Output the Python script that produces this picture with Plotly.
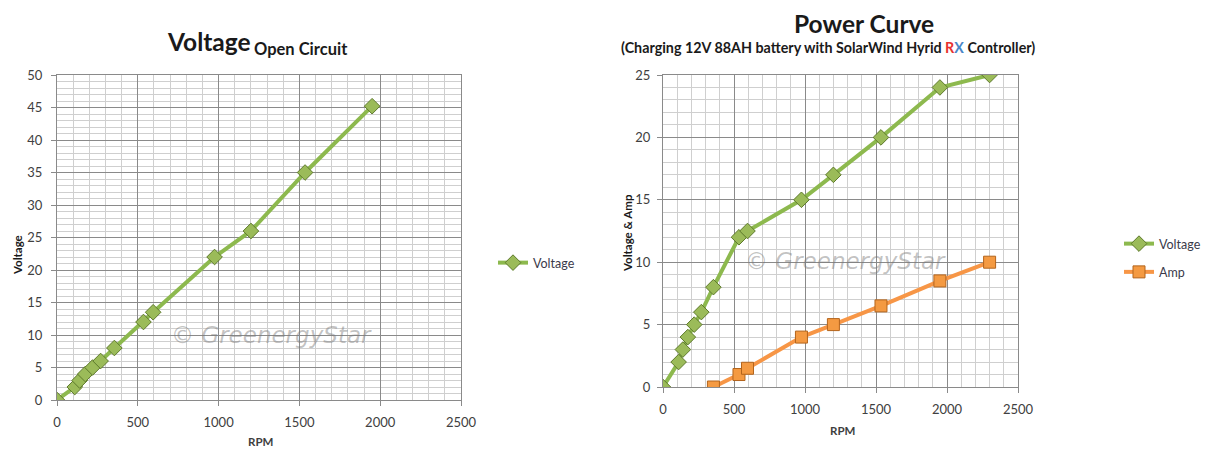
import plotly.graph_objects as go

# ---- data ----
rpm_open = [0, 110, 140, 175, 220, 270, 355, 535, 595, 975, 1200, 1535, 1950]
volt_open = [0, 2, 3, 4, 5, 6, 8, 12, 13.5, 22, 26, 35, 45.2]

rpm_pc = [0, 110, 140, 175, 220, 270, 355, 535, 595, 975, 1200, 1535, 1950, 2300]
volt_pc = [0, 2, 3, 4, 5, 6, 8, 12, 12.5, 15, 17, 20, 24, 25]

rpm_amp = [355, 535, 595, 975, 1200, 1535, 1950, 2300]
amp_pc = [0, 1, 1.5, 4, 5, 6.5, 8.5, 10]

x_ticks = [0, 500, 1000, 1500, 2000, 2500]

# the page body adds an 8px margin; the figure fills the rest of the window
OFF = 8
W, H = 1209 - OFF, 451 - OFF
GREEN_LINE = "#8DB94E"
GREEN_FILL = "#9BBB59"
GREEN_EDGE = "#5E7A2C"
ORANGE_LINE = "#F79646"
ORANGE_FILL = "#F49A42"
ORANGE_EDGE = "#B3641C"
FONT = "Lato"
TXT = "#404040"

def px_x(p):
    return (p - OFF) / W

def px_y(p):
    return 1 - (p - OFF) / H

fig = go.Figure()

fig.add_trace(go.Scatter(
    x=rpm_open, y=volt_open, name="Voltage", mode="lines+markers",
    line=dict(color=GREEN_LINE, width=4),
    marker=dict(symbol="diamond", size=12, color=GREEN_FILL,
                line=dict(color=GREEN_EDGE, width=1)),
    xaxis="x", yaxis="y", legend="legend"))

fig.add_trace(go.Scatter(
    x=rpm_pc, y=volt_pc, name="Voltage", mode="lines+markers",
    line=dict(color=GREEN_LINE, width=4),
    marker=dict(symbol="diamond", size=12, color=GREEN_FILL,
                line=dict(color=GREEN_EDGE, width=1)),
    xaxis="x2", yaxis="y2", legend="legend2", legendgroup="v"))

fig.add_trace(go.Scatter(
    x=rpm_amp, y=amp_pc, name="Amp", mode="lines+markers",
    line=dict(color=ORANGE_LINE, width=4),
    marker=dict(symbol="square", size=12, color=ORANGE_FILL,
                line=dict(color=ORANGE_EDGE, width=1)),
    xaxis="x2", yaxis="y2", legend="legend2", legendgroup="a"))

def xaxis_cfg(dom, anchor):
    return dict(domain=dom, anchor=anchor, range=[0, 2500], tickvals=x_ticks,
                automargin=False,
                showgrid=True, gridcolor="#8a8a8a", gridwidth=1,
                minor=dict(dtick=100, showgrid=True, gridcolor="#cfcfcf", gridwidth=1),
                showline=True, linecolor="#8a8a8a", mirror=True, zeroline=False,
                ticks="outside", ticklen=5, tickcolor="#8a8a8a", ticklabelstandoff=5,
                tickfont=dict(family=FONT, size=13, color=TXT), fixedrange=True)

def yaxis_cfg(dom, anchor, rng, dt, standoff):
    return dict(domain=dom, anchor=anchor, range=rng, dtick=dt,
                automargin=False,
                showgrid=True, gridcolor="#8a8a8a", gridwidth=1,
                minor=dict(dtick=1, showgrid=True, gridcolor="#cfcfcf", gridwidth=1),
                showline=True, linecolor="#8a8a8a", mirror=True, zeroline=False,
                ticks="outside", ticklen=5, tickcolor="#8a8a8a", ticklabelstandoff=standoff,
                tickfont=dict(family=FONT, size=13, color=TXT), fixedrange=True)

fig.update_layout(
    width=W, height=H, margin=dict(l=0, r=0, t=0, b=0, autoexpand=False),
    paper_bgcolor="white", plot_bgcolor="white",
    xaxis=xaxis_cfg([px_x(57), px_x(461)], "y"),
    yaxis=yaxis_cfg([px_y(400), px_y(75)], "x", [0, 50], 5, 6),
    xaxis2=xaxis_cfg([px_x(663), px_x(1018)], "y2"),
    yaxis2=yaxis_cfg([px_y(387), px_y(75)], "x2", [0, 25], 5, 4),
    legend=dict(x=px_x(493), y=px_y(263), xanchor="left", yanchor="middle",
                font=dict(family=FONT, size=12.5, color="#3a3a4a"), bgcolor="rgba(0,0,0,0)",
                itemwidth=30),
    legend2=dict(x=px_x(1119), y=px_y(258), xanchor="left", yanchor="middle",
                 font=dict(family=FONT, size=12.5, color="#3a3a4a"), bgcolor="rgba(0,0,0,0)",
                 itemwidth=30, tracegroupgap=9),
    showlegend=True,
)

def A(x, y, text, size, color="#1a1a1a", angle=0, family=FONT, xanchor="center"):
    return dict(x=px_x(x), y=px_y(y), xref="paper", yref="paper", text=text,
                xanchor=xanchor, yanchor="middle", textangle=angle, showarrow=False,
                font=dict(family=family, size=size, color=color))

ann = [
    # Left title
    A(165, 42, "<b>Voltage</b>", 24.5, xanchor="left"),
    A(252, 49, "<b>Open Circuit</b>", 16.5, xanchor="left"),
    # Right title
    A(864, 23, "<b>Power Curve</b>", 24.5),
    A(828, 48, "<b>(Charging 12V 88AH battery with SolarWind Hyrid "
               "<span style='color:#e8322e'>R</span><span style='color:#4a86c8'>X</span> Controller)</b>", 14.3),
    # Axis titles
    A(17, 255, "<b>Voltage</b>", 11.5, angle=-90),
    A(260, 441, "<b>RPM</b>", 11.5, color=TXT),
    A(627, 233, "<b>Voltage &amp; Amp</b>", 11.5, angle=-90),
    A(842, 430, "<b>RPM</b>", 11.5, color=TXT),
    # Watermarks
    A(271, 335, "<i>© GreenergyStar</i>", 23, color="rgba(120,120,120,0.45)", family="DejaVu Sans"),
    A(845, 261, "<i>© GreenergyStar</i>", 23, color="rgba(120,120,120,0.45)", family="DejaVu Sans"),
]

fig.update_layout(annotations=ann)

fig.write_html("out.html")
